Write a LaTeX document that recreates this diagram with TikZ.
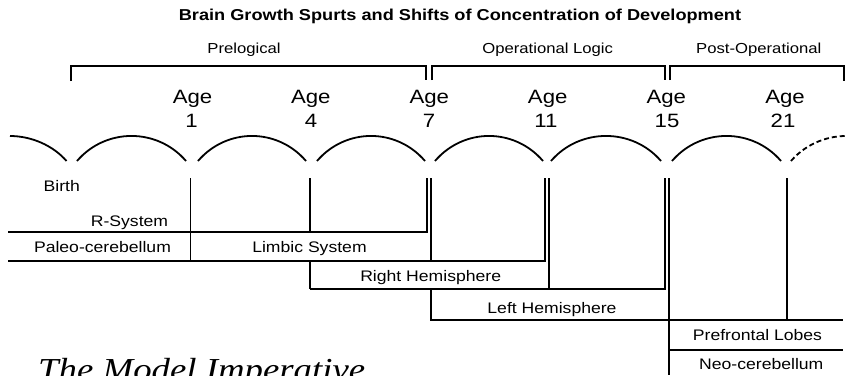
\documentclass[tikz,border=0pt]{standalone}
\usepackage{fontspec}
\newfontfamily\lab[FakeStretch=1.15]{Liberation Sans}
\newfontfamily\serifit[FakeStretch=1.15]{Liberation Serif}
\tikzset{
  ln/.style={line width=1.8pt, line join=miter},
  arcln/.style={line width=1.8pt},
  lbl/.style={inner sep=0pt, anchor=base, font=\lab\fontsize{15.3}{18}\selectfont},
  agel/.style={inner sep=0pt, anchor=base, font=\lab\fontsize{19.3}{22}\selectfont},
  grp/.style={inner sep=0pt, anchor=base, font=\lab\fontsize{14.5}{17}\selectfont},
  ttl/.style={inner sep=0pt, anchor=base, font=\lab\bfseries\fontsize{15.8}{18}\selectfont},
}
\begin{document}
\begin{tikzpicture}[x=1pt,y=-1pt]
\useasboundingbox (0,0) rectangle (846,375);
\clip (0,0) rectangle (846,375);
% title and stage labels
\node[ttl] (title) at (460,20.7) {Brain Growth Spurts and Shifts of Concentration of Development};
\node[grp] (prelog) at (244,53.3) {Prelogical};
\node[grp] (oplog) at (547.7,53.3) {Operational Logic};
\node[grp] (postop) at (758.8,53.3) {Post-Operational};
% brackets
\draw[ln] (71,81) -- (71,66) -- (426,66) -- (426,80);
\draw[ln] (432,80) -- (432,66) -- (665,66) -- (665,80);
\draw[ln] (670,80) -- (670,66) -- (843.7,66) -- (843.7,81);
% ages
\node[agel] (a1) at (192.5,103.3) {Age};
\node[agel] (n1) at (191.5,127.7) {1};
\node[agel] (a4) at (310.8,103.3) {Age};
\node[agel] (n4) at (311,127.7) {4};
\node[agel] (a7) at (429.3,103.3) {Age};
\node[agel] (n7) at (429,127.7) {7};
\node[agel] (a11) at (547.7,103.3) {Age};
\node[agel] (n11) at (546,127.7) {11};
\node[agel] (a15) at (666.3,103.3) {Age};
\node[agel] (n15) at (667,127.7) {15};
\node[agel] (a21) at (785,103.3) {Age};
\node[agel] (n21) at (783,127.7) {21};
% growth spurt arcs
\draw[arcln] (10,136) .. controls +(20.9,0) and +(-13.6,-15.8) .. (66.5,161);
\foreach \l/\r in {77/186, 198/306, 317/425, 435/543, 551/661, 672/781}{
  \draw[arcln] (\l,161) .. controls +(28.7,-33.4) and +(-28.7,-33.4) .. (\r,161);
}
\draw[arcln, dash pattern=on 5pt off 3pt] (791,161) .. controls +(13.6,-15.8) and +(-20.9,0) .. (846,136);
% vertical and horizontal lines
\draw[ln] (190.5,178) -- (190.5,261);
\draw[ln] (310,178) -- (310,232);
\draw[ln] (310,261) -- (310,289);
\draw[ln] (427.3,178) -- (427.3,232) -- (8,232);
\draw[ln] (431,178) -- (431,261);
\draw[ln] (431,289) -- (431,320) -- (843,320);
\draw[ln] (545,178) -- (545,261) -- (8,261);
\draw[ln] (549,178) -- (549,289);
\draw[ln] (665,178) -- (665,289) -- (310,289);
\draw[ln] (669,178) -- (669,375);
\draw[ln] (787,178) -- (787,320);
\draw[ln] (669,350) -- (843,350);
% labels
\node[lbl] (birth) at (61.7,191.7) {Birth};
\node[lbl, anchor=base east] (rsys) at (168.3,226) {R-System};
\node[lbl] (paleo) at (102.5,252) {Paleo-cerebellum};
\node[lbl] (limbic) at (309.5,252) {Limbic System};
\node[lbl] (righth) at (430.7,281.7) {Right Hemisphere};
\node[lbl] (lefth) at (552,313.3) {Left Hemisphere};
\node[lbl] (pref) at (757.5,340.7) {Prefrontal Lobes};
\node[lbl] (neo) at (761.3,369.3) {Neo-cerebellum};
% bottom caption
\node[inner sep=0pt, anchor=base west, font=\serifit\itshape\fontsize{32}{36}\selectfont] (model) at (38,380) {The Model Imperative};
\end{tikzpicture}
\end{document}
